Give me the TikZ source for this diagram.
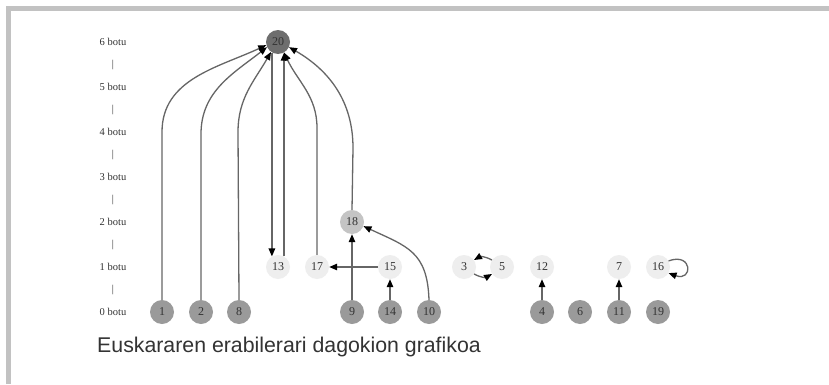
\documentclass[tikz,border=0pt]{standalone}
\usepackage{fontspec}
\setmainfont{Liberation Serif}
\newfontfamily\capfont{Liberation Sans}
\usetikzlibrary{arrows.meta}
\definecolor{framegray}{HTML}{C2C2C2}
\definecolor{ctop}{HTML}{6E6E6E}
\definecolor{clow}{HTML}{9A9A9A}
\definecolor{cmid}{HTML}{C4C4C4}
\definecolor{chi}{HTML}{EEEEEE}
\definecolor{edgegray}{HTML}{666666}
\definecolor{txtgray}{HTML}{333333}
\begin{document}
\begin{tikzpicture}[x=1pt,y=1pt,
  vtx/.style={circle,minimum size=24pt,inner sep=0pt,font=\fontsize{12}{12}\selectfont,text=txtgray},
  topv/.style={vtx,fill=ctop},
  lowv/.style={vtx,fill=clow},
  midv/.style={vtx,fill=cmid},
  hiv/.style={vtx,fill=chi},
  lvl/.style={font=\fontsize{10.5}{10.5}\selectfont,text=txtgray,inner sep=0pt},
  edge/.style={draw=edgegray,line width=1.3pt,-{Triangle[length=8pt,width=6.5pt,color=black]}},
  captext/.style={font=\capfont\fontsize{21.3}{21.3}\selectfont,text=txtgray,inner sep=0pt,anchor=base west}
]
\useasboundingbox (0,0) rectangle (829,384);
\fill[white] (0,0) rectangle (829,384);
\fill[framegray] (6,373) rectangle (829,378);
\fill[framegray] (6,0) rectangle (11,378);

% level labels
\node[lvl] (lab6) at (113,342) {6 botu};
\node[lvl] (lab5) at (113,297) {5 botu};
\node[lvl] (lab4) at (113,252) {4 botu};
\node[lvl] (lab3) at (113,207) {3 botu};
\node[lvl] (lab2) at (113,162) {2 botu};
\node[lvl] (lab1) at (113,117) {1 botu};
\node[lvl] (lab0) at (113,72) {0 botu};
\node[lvl] (sep6) at (113,319.5) {|};
\node[lvl] (sep5) at (113,274.5) {|};
\node[lvl] (sep4) at (113,229.5) {|};
\node[lvl] (sep3) at (113,184.5) {|};
\node[lvl] (sep2) at (113,139.5) {|};
\node[lvl] (sep1) at (113,94.5) {|};

% nodes
\node[topv] (n20) at (278,342) {20};
\node[midv] (n18) at (352,162) {18};
\node[hiv] (n13) at (278,117) {13};
\node[hiv] (n17) at (317,117) {17};
\node[hiv] (n15) at (390,117) {15};
\node[hiv] (n3) at (464,117) {3};
\node[hiv] (n5) at (502,117) {5};
\node[hiv] (n12) at (542,117) {12};
\node[hiv] (n7) at (619,117) {7};
\node[hiv] (n16) at (658,117) {16};
\node[lowv] (n1) at (162,72) {1};
\node[lowv] (n2) at (201,72) {2};
\node[lowv] (n8) at (239,72) {8};
\node[lowv] (n9) at (352,72) {9};
\node[lowv] (n14) at (390,72) {14};
\node[lowv] (n10) at (429,72) {10};
\node[lowv] (n4) at (542,72) {4};
\node[lowv] (n6) at (580,72) {6};
\node[lowv] (n11) at (619,72) {11};
\node[lowv] (n19) at (658,72) {19};

% edges to 20
\coordinate (b1) at (162,252);
\coordinate (b2) at (201,250);
\coordinate (b8) at (238,252);
\coordinate (b17) at (317,256);
\coordinate (b18) at (353,236);
\draw[edge] (n1.north) -- (b1) to[out=90,in=205] (n20.195);
\draw[edge] (n2.north) -- (b2) to[out=90,in=218] (n20.205);
\draw[edge] (n8.north) -- (b8) to[out=90,in=240] (n20.235);
\draw[edge] (n17.north) -- (b17) to[out=90,in=295] (n20.300);
\draw[edge] (n18.north) -- (b18) to[out=90,in=330] (n20.335);
\draw[edge] (n20.240) -- (n13.120);
\draw[edge] (n13.60) -- (n20.300);

% other edges
\draw[edge] (n9.north) -- (n18.south);
\draw[edge] (n10.north) to[out=92,in=-25,looseness=1.25] (n18.340);
\draw[edge] (n15.west) -- (n17.east);
\draw[edge] (n14.north) -- (n15.south);
\draw[edge] (n4.north) -- (n12.south);
\draw[edge] (n11.north) -- (n7.south);
\draw[edge] (n5.145) to[bend right=30] (n3.35);
\draw[edge] (n3.-35) to[bend right=30] (n5.215);
\draw[edge] (n16.30) .. controls +(20:26) and +(-20:26) .. (n16.-30);

% caption
\node[captext] (caption) at (97,32) {Euskararen erabilerari dagokion grafikoa};
\end{tikzpicture}
\end{document}
